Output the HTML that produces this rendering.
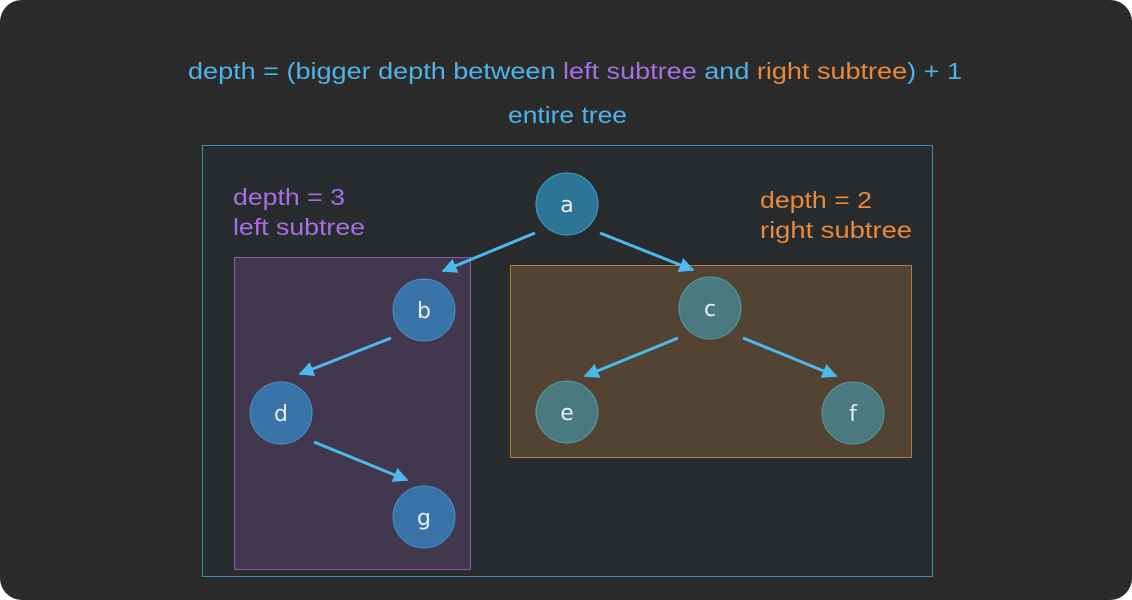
<html><body style="margin:0;background:#fff">
<div style="position:relative;width:1132px;height:600px;background:#2b2b2b;border-radius:22px;overflow:hidden;font-family:'Liberation Sans','DejaVu Sans',sans-serif">
<svg width="1132" height="600" style="position:absolute;left:0;top:0">
<defs><marker id="ar" viewBox="0 0 10 10" refX="9" refY="5" markerWidth="5" markerHeight="5" orient="auto"><path d="M0,0L10,5L0,10z" fill="#4db8ec"/></marker></defs>
<rect x="202.5" y="145.5" width="730" height="431" fill="#282c2f" stroke="#3a8fb8"/>
<rect x="234.5" y="257.5" width="236" height="312" fill="#413850" stroke="#8a5aa8"/>
<rect x="510.5" y="265.5" width="401" height="192" fill="#524332" stroke="#b57a40"/>
<g stroke="#4db8ec" stroke-width="3" marker-end="url(#ar)">
<line x1="535" y1="233" x2="443" y2="271"/>
<line x1="600" y1="233" x2="693" y2="270"/>
<line x1="391" y1="338" x2="300" y2="374"/>
<line x1="678" y1="338" x2="585" y2="376"/>
<line x1="743" y1="338" x2="836" y2="376"/>
<line x1="314" y1="442" x2="407" y2="480"/>
</g>
<g font-size="22" fill="#e8eef2" text-anchor="middle" font-family="DejaVu Sans,sans-serif">
<circle cx="567" cy="204" r="31" fill="#2d7596" stroke="#4a9cc0"/><text x="567" y="212">a</text>
<circle cx="424" cy="310" r="31" fill="#3a73a8" stroke="#4a90c8"/><text x="424" y="318">b</text>
<circle cx="710" cy="308" r="31" fill="#4a7a80" stroke="#5a9aa0"/><text x="710" y="316">c</text>
<circle cx="281" cy="413" r="31" fill="#3a73a8" stroke="#4a90c8"/><text x="281" y="421">d</text>
<circle cx="567" cy="412" r="31" fill="#4a7a80" stroke="#5a9aa0"/><text x="567" y="420">e</text>
<circle cx="853" cy="413" r="31" fill="#4a7a80" stroke="#5a9aa0"/><text x="853" y="421">f</text>
<circle cx="424" cy="517" r="31" fill="#3a73a8" stroke="#4a90c8"/><text x="424" y="525">g</text>
</g>
<g font-size="23" font-family="Liberation Sans,sans-serif">
<text x="188" y="79" textLength="774" lengthAdjust="spacingAndGlyphs" fill="#4fb3e8">depth = (bigger depth between <tspan fill="#a86fe0">left subtree</tspan> and <tspan fill="#e8893c">right subtree</tspan>) + 1</text>
<text x="508" y="123" textLength="119" lengthAdjust="spacingAndGlyphs" fill="#4fb3e8">entire tree</text>
<text x="233" y="205" textLength="112" lengthAdjust="spacingAndGlyphs" fill="#a86fe0">depth = 3</text>
<text x="233" y="235" textLength="132" lengthAdjust="spacingAndGlyphs" fill="#a86fe0">left subtree</text>
<text x="760" y="208" textLength="112" lengthAdjust="spacingAndGlyphs" fill="#e8893c">depth = 2</text>
<text x="760" y="238" textLength="152" lengthAdjust="spacingAndGlyphs" fill="#e8893c">right subtree</text>
</g>
</svg>
</div>
</body></html>
